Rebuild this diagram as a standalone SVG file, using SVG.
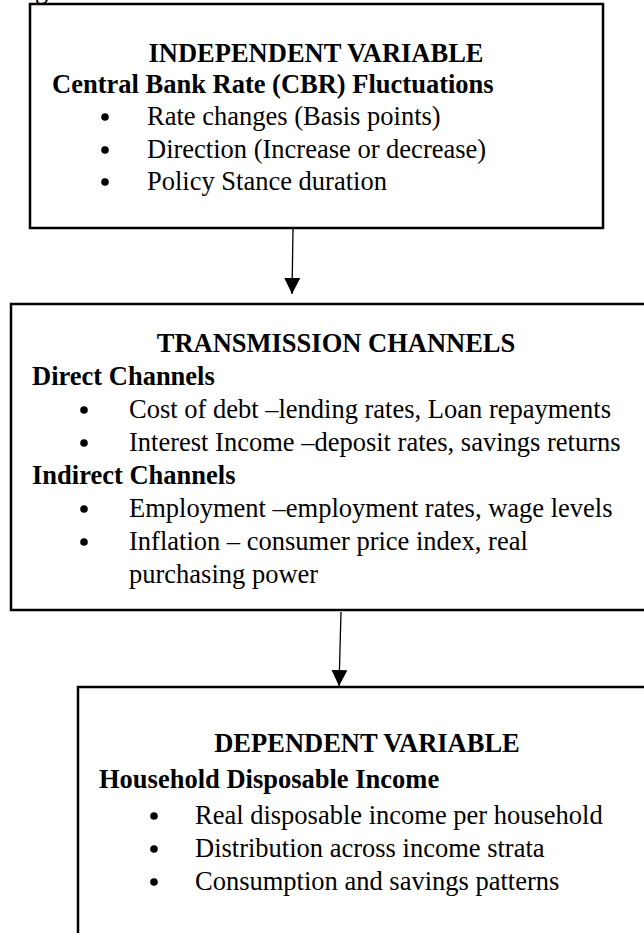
<svg xmlns="http://www.w3.org/2000/svg" width="644" height="933" viewBox="0 0 644 933">
<style>
.t{font-family:"Liberation Serif","Times New Roman",serif;font-size:26.5px;fill:#000}
.b{font-weight:bold}
.c{text-anchor:middle}
.dot{fill:#000}
.box{fill:#fff;stroke:#000;stroke-width:2.5}
.conn{stroke:#000;stroke-width:1.3;fill:none}
</style>
<defs>
<marker id="ah" markerUnits="userSpaceOnUse" markerWidth="16" markerHeight="16" viewBox="0 0 16 16" refX="16" refY="8" orient="auto">
<path d="M0,0 L16,8 L0,16 z" fill="#000"/>
</marker>
<circle id="bul" r="3.8" class="dot"/>
</defs>
<rect width="644" height="933" fill="#fff"/>
<text class="t" x="35" y="-2">g</text>
<g id="independent">
<rect class="box" x="30" y="4" width="573" height="224"/>
<text class="t b c" x="316" y="62">INDEPENDENT VARIABLE</text>
<text class="t b" x="52" y="93">Central Bank Rate (CBR) Fluctuations</text>
<use href="#bul" x="105" y="117"/><text class="t" x="147" y="125">Rate changes (Basis points)</text>
<use href="#bul" x="105" y="150"/><text class="t" x="147" y="158">Direction (Increase or decrease)</text>
<use href="#bul" x="105" y="182"/><text class="t" x="147" y="190">Policy Stance duration</text>
</g>
<g id="transmission">
<rect class="box" x="11" y="304" width="660" height="306"/>
<text class="t b c" x="336" y="352">TRANSMISSION CHANNELS</text>
<text class="t b" x="32" y="385">Direct Channels</text>
<use href="#bul" x="84" y="410"/><text class="t" x="129" y="418">Cost of debt –lending rates, Loan repayments</text>
<use href="#bul" x="84" y="443"/><text class="t" x="129" y="451">Interest Income –deposit rates, savings returns</text>
<text class="t b" x="32" y="484">Indirect Channels</text>
<use href="#bul" x="84" y="509"/><text class="t" x="129" y="517">Employment –employment rates, wage levels</text>
<use href="#bul" x="84" y="542"/><text class="t" x="129" y="550">Inflation – consumer price index, real</text>
<text class="t" x="129" y="583">purchasing power</text>
</g>
<g id="dependent">
<rect class="box" x="78" y="687" width="600" height="270"/>
<text class="t b c" x="367" y="752">DEPENDENT VARIABLE</text>
<text class="t b" x="99" y="788">Household Disposable Income</text>
<use href="#bul" x="154" y="816"/><text class="t" x="195" y="824">Real disposable income per household</text>
<use href="#bul" x="154" y="849"/><text class="t" x="195" y="857">Distribution across income strata</text>
<use href="#bul" x="154" y="882"/><text class="t" x="195" y="890">Consumption and savings patterns</text>
</g>
<g id="connectors">
<line class="conn" x1="293" y1="229" x2="292" y2="294" marker-end="url(#ah)"/>
<line class="conn" x1="341" y1="612" x2="339" y2="686" marker-end="url(#ah)"/>
</g>
</svg>
